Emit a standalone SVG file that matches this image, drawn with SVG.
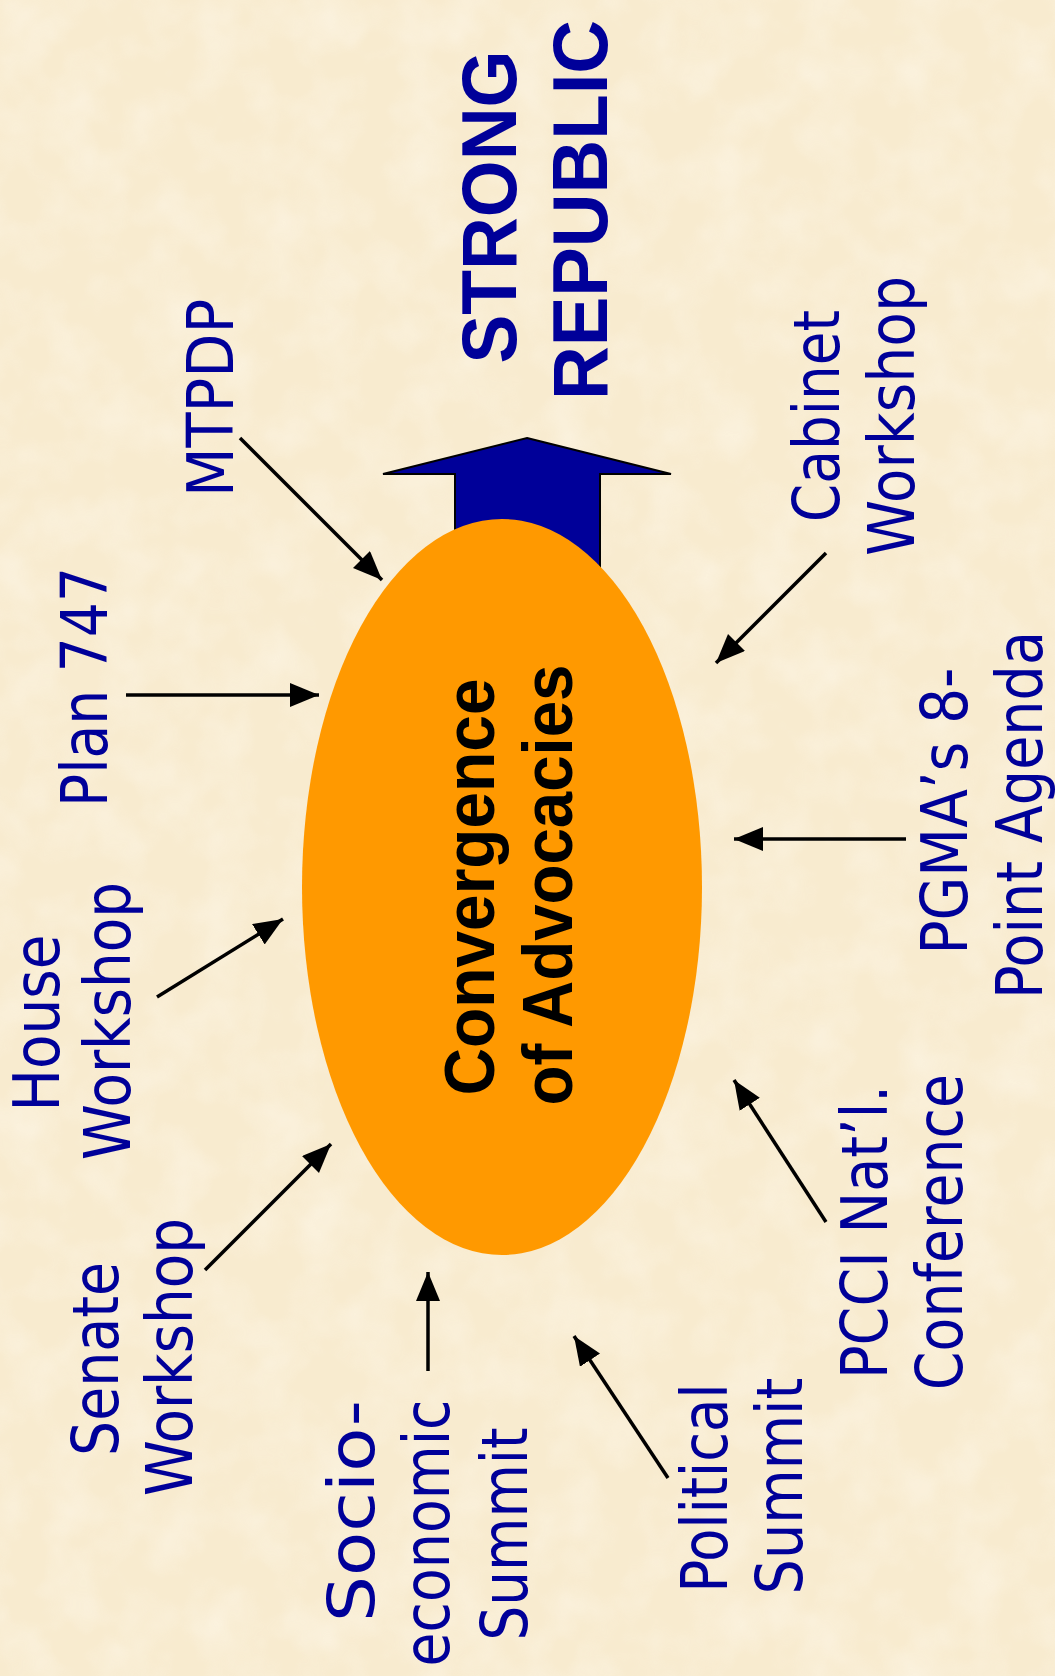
<svg xmlns="http://www.w3.org/2000/svg" width="1055" height="1676" viewBox="0 0 1055 1676">
<style>
.lbl{font-family:"DejaVu Sans","Verdana",sans-serif;font-size:64px;fill:#000099;text-anchor:middle}
.big{font-family:"Liberation Sans","Arial",sans-serif;font-weight:bold;font-size:77px;fill:#000099;text-anchor:middle}
.ctr{font-family:"Liberation Sans","Arial",sans-serif;font-weight:bold;font-size:70px;fill:#000000;text-anchor:middle}
.con{stroke:#000;stroke-width:3.5;fill:none;marker-end:url(#ah)}
</style>
<defs>
<marker id="ah" markerUnits="userSpaceOnUse" markerWidth="32" markerHeight="26" refX="29" refY="12" orient="auto">
<path d="M0,0 L29,12 L0,24 z" fill="#000"/>
</marker>
<filter id="tex" x="0" y="0" width="100%" height="100%">
<feTurbulence type="fractalNoise" baseFrequency="0.02" numOctaves="3" seed="4"/>
<feColorMatrix type="matrix" values="0 0 0 0 1  0 0 0 0 0.97  0 0 0 0 0.9  0 0 0 -1.2 0.75"/>
</filter>
</defs>
<rect width="1055" height="1676" fill="#F8EBCF"/>
<rect width="1055" height="1676" filter="url(#tex)" opacity="0.6"/>

<g id="arrow-up">
<polygon points="527,438 671,474 600,474 600,650 455,650 455,474 383,474" fill="#000099" stroke="#000" stroke-width="2"/>
</g>
<g id="strong-republic">
<text class="big" transform="translate(516,207) rotate(-90)" textLength="313" lengthAdjust="spacingAndGlyphs">STRONG</text>
<text class="big" transform="translate(607,210) rotate(-90)" textLength="380" lengthAdjust="spacingAndGlyphs">REPUBLIC</text>
</g>

<g id="convergence">
<ellipse cx="502" cy="887" rx="200" ry="368" fill="#FF9900"/>
<text class="ctr" transform="translate(494,887) rotate(-90)" textLength="417" lengthAdjust="spacingAndGlyphs">Convergence</text>
<text class="ctr" transform="translate(572,885) rotate(-90)" textLength="441" lengthAdjust="spacingAndGlyphs">of Advocacies</text>
</g>

<g id="connectors">
<line class="con" x1="240" y1="438" x2="382" y2="580"/>
<line class="con" x1="126" y1="695" x2="319" y2="695"/>
<line class="con" x1="157" y1="997" x2="283" y2="919"/>
<line class="con" x1="205" y1="1270" x2="331" y2="1144"/>
<line class="con" x1="428" y1="1371" x2="428" y2="1272"/>
<line class="con" x1="668" y1="1478" x2="574" y2="1336"/>
<line class="con" x1="826" y1="1222" x2="734" y2="1080"/>
<line class="con" x1="906" y1="839" x2="734" y2="839"/>
<line class="con" x1="826" y1="553" x2="716" y2="663"/>
</g>

<g id="mtpdp">
<text class="lbl" transform="translate(233,398) rotate(-90)" textLength="198" lengthAdjust="spacingAndGlyphs">MTPDP</text>
</g>
<g id="plan747">
<text class="lbl" transform="translate(107,687) rotate(-90)" textLength="240" lengthAdjust="spacingAndGlyphs">Plan 747</text>
</g>
<g id="house-workshop">
<text class="lbl" transform="translate(59,1023) rotate(-90)" textLength="177" lengthAdjust="spacingAndGlyphs">House</text>
<text class="lbl" transform="translate(130,1021) rotate(-90)" textLength="278" lengthAdjust="spacingAndGlyphs">Workshop</text>
</g>
<g id="senate-workshop">
<text class="lbl" transform="translate(118,1359) rotate(-90)" textLength="194" lengthAdjust="spacingAndGlyphs">Senate</text>
<text class="lbl" transform="translate(192,1357) rotate(-90)" textLength="278" lengthAdjust="spacingAndGlyphs">Workshop</text>
</g>
<g id="socio-economic-summit">
<text class="lbl" transform="translate(374,1511) rotate(-90)" textLength="222" lengthAdjust="spacingAndGlyphs">Socio-</text>
<text class="lbl" transform="translate(449,1533) rotate(-90)" textLength="267" lengthAdjust="spacingAndGlyphs">economic</text>
<text class="lbl" transform="translate(527,1534) rotate(-90)" textLength="213" lengthAdjust="spacingAndGlyphs">Summit</text>
</g>
<g id="political-summit">
<text class="lbl" transform="translate(727,1488) rotate(-90)" textLength="209" lengthAdjust="spacingAndGlyphs">Political</text>
<text class="lbl" transform="translate(802,1486) rotate(-90)" textLength="217" lengthAdjust="spacingAndGlyphs">Summit</text>
</g>
<g id="pcci-conference">
<text class="lbl" transform="translate(887,1232) rotate(-90)" textLength="294" lengthAdjust="spacingAndGlyphs">PCCI Nat’l.</text>
<text class="lbl" transform="translate(962,1232) rotate(-90)" textLength="316" lengthAdjust="spacingAndGlyphs">Conference</text>
</g>
<g id="pgma-agenda">
<text class="lbl" transform="translate(967,811) rotate(-90)" textLength="287" lengthAdjust="spacingAndGlyphs">PGMA’s 8-</text>
<text class="lbl" transform="translate(1042,815) rotate(-90)" textLength="368" lengthAdjust="spacingAndGlyphs">Point Agenda</text>
</g>
<g id="cabinet-workshop">
<text class="lbl" transform="translate(839,416) rotate(-90)" textLength="212" lengthAdjust="spacingAndGlyphs">Cabinet</text>
<text class="lbl" transform="translate(914,416) rotate(-90)" textLength="280" lengthAdjust="spacingAndGlyphs">Workshop</text>
</g>
</svg>
